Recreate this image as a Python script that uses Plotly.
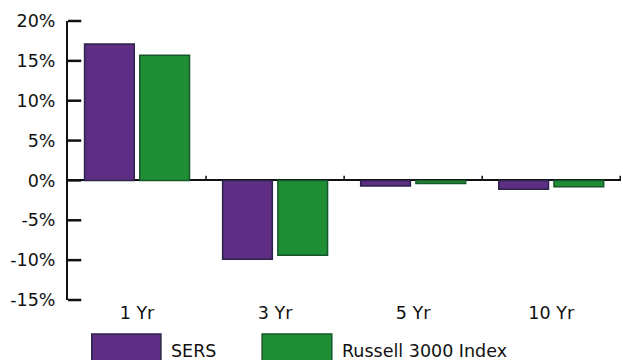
import plotly.graph_objects as go

# Annualized returns by period
periods = ["1 Yr", "3 Yr", "5 Yr", "10 Yr"]
series_names = ["SERS", "Russell 3000 Index"]
sers_returns = [17.1, -9.9, -0.7, -1.1]
russell_returns = [15.7, -9.4, -0.4, -0.8]
y_ticks = [-15, -10, -5, 0, 5, 10, 15, 20]
y_tick_labels = ["-15%", "-10%", "-5%", "0%", "5%", "10%", "15%", "20%"]
y_range = [-15, 20]

fills = ["#5d2e84", "#1f8f36"]
borders = ["#2a2448", "#17562a"]

FONT = dict(family="DejaVu Sans, Verdana, sans-serif", size=17.5, color="#111111")

fig = go.Figure()
for name, vals, fc, bc in zip(series_names, [sers_returns, russell_returns], fills, borders):
    fig.add_trace(go.Bar(
        x=periods, y=vals, name=name,
        marker=dict(color=fc, line=dict(color=bc, width=1.5)),
        showlegend=False,
    ))

# tick marks pointing right from the value axis (paper-referenced so the
# end ticks are not clipped by the plot area)
for t in y_ticks:
    yp = (t - y_range[0]) / (y_range[1] - y_range[0])
    fig.add_shape(type="line", xref="paper", yref="paper", layer="above",
                  x0=0, x1=0.024, y0=yp, y1=yp,
                  line=dict(color="#111111", width=2.5))

# small tick marks on the zero line between period groups
for i in range(1, len(periods) + 1):
    fig.add_shape(type="line", xref="x", yref="y", layer="above",
                  x0=i - 0.5, x1=i - 0.5, y0=0, y1=0.6,
                  line=dict(color="#111111", width=1.5))

# legend swatches and labels below the chart
legend_boxes = [(0.043, 0.168), (0.351, 0.477)]
for (x0, x1), name, fc, bc in zip(legend_boxes, series_names, fills, borders):
    fig.add_shape(type="rect", xref="paper", yref="paper",
                  x0=x0, x1=x1, y0=-0.225, y1=-0.122,
                  fillcolor=fc, line=dict(color=bc, width=1.5))
    fig.add_annotation(xref="paper", yref="paper", x=x1 + 0.014, y=-0.184,
                       text=name, showarrow=False, xanchor="left", yanchor="middle",
                       font=FONT)

fig.update_layout(
    width=623, height=360,
    margin=dict(l=68, r=2, t=21, b=60),
    paper_bgcolor="white", plot_bgcolor="white",
    barmode="group", bargap=0.2, bargroupgap=0.1,
    font=FONT,
)
fig.update_xaxes(
    type="category", showgrid=False, showline=False, ticks="",
    tickfont=FONT, zeroline=False,
)
fig.update_yaxes(
    range=y_range, tickvals=y_ticks, ticktext=y_tick_labels,
    showgrid=False, showline=True, linecolor="#111111", linewidth=2,
    ticks="", ticklabelstandoff=7,
    zeroline=True, zerolinecolor="#111111", zerolinewidth=1.5,
    tickfont=FONT,
)

fig.write_html("out.html")
